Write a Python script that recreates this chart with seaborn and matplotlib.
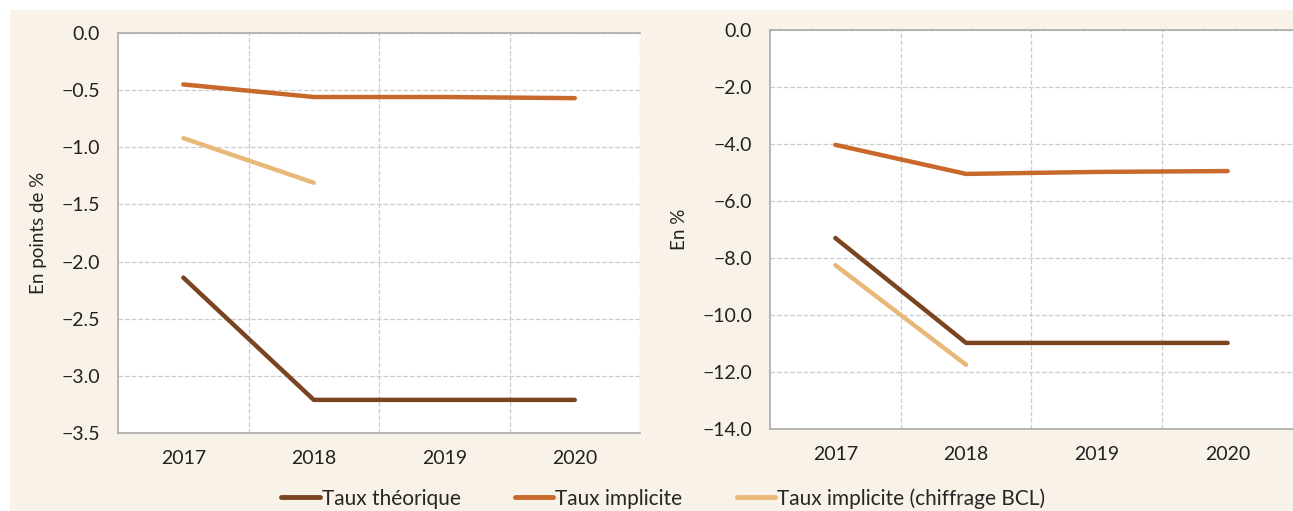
import seaborn as sns
import matplotlib.pyplot as plt
import pandas as pd
from matplotlib.patches import Rectangle
from matplotlib.lines import Line2D

years = ["2017", "2018", "2019", "2020"]
series = ["Taux théorique", "Taux implicite", "Taux implicite (chiffrage BCL)"]
colors = ["#7a4421", "#c8682b", "#e8b878"]

# panneau gauche : en points de %
left_theorique = [-2.14, -3.21, -3.21, -3.21]
left_implicite = [-0.45, -0.56, -0.56, -0.57]
left_bcl = [-0.92, -1.31, None, None]

# panneau droit : en %
right_theorique = [-7.3, -10.98, -10.98, -10.98]
right_implicite = [-4.03, -5.05, -4.98, -4.95]
right_bcl = [-8.25, -11.75, None, None]


def to_long(vals):
    rows = []
    for name, v in zip(series, vals):
        for i, y in enumerate(v):
            if y is not None:
                rows.append({"x": i, "val": y, "serie": name})
    return pd.DataFrame(rows)


left = to_long([left_theorique, left_implicite, left_bcl])
right = to_long([right_theorique, right_implicite, right_bcl])

sns.set_style("white")
plt.rcParams["font.family"] = ["Lato", "DejaVu Sans"]

fig = plt.figure(figsize=(12.93, 5.11), dpi=100, facecolor="white")
fig.patches.append(Rectangle((10 / 1293, 0), 1, 1 - 10 / 511, transform=fig.transFigure,
                             facecolor="#f9f2e8", edgecolor="none", zorder=-1))

ax1 = fig.add_axes([0.0913, 0.1526, 0.4037, 0.7828])
ax2 = fig.add_axes([0.5955, 0.1605, 0.4045, 0.7808])

pal = dict(zip(series, colors))
for ax, df, ylim, step, lab in [(ax1, left, (-3.5, 0), 0.5, "En points de %"),
                                (ax2, right, (-14, 0), 2.0, "En %")]:
    sns.lineplot(data=df, x="x", y="val", hue="serie", palette=pal, linewidth=3.2,
                 ax=ax, legend=False)
    ax.set_facecolor("white")
    ax.set_xlim(-0.5, 3.5)
    ax.set_ylim(*ylim)
    n = int(round(-ylim[0] / step))
    ticks = [-step * k for k in range(n + 1)]
    ax.set_yticks(ticks)
    ax.set_yticklabels([f"{abs(t):.1f}" if t == 0 else f"\u2212{abs(t):.1f}" for t in ticks])
    ax.set_xticks(range(4))
    ax.set_xticklabels(years)
    ax.set_xticks([0.5, 1.5, 2.5, 3.5], minor=True)
    ax.tick_params(axis="x", which="major", length=0, pad=12, labelsize=14, colors="#222222")
    ax.tick_params(axis="x", which="minor", length=5, color="#aaaaaa")
    ax.tick_params(axis="y", length=5, pad=8, labelsize=14, colors="#222222")
    ax.tick_params(axis="y", color="#aaaaaa")
    ax.grid(True, axis="y", which="major", linestyle="--", color="#cccccc", linewidth=0.9)
    ax.grid(True, axis="x", which="minor", linestyle="--", color="#cccccc", linewidth=0.9)
    for s in ["left", "bottom", "top"]:
        ax.spines[s].set_color("#aaaaaa")
        ax.spines[s].set_linewidth(1.2)
    ax.spines["right"].set_visible(False)
    ax.set_xlabel("")
    ax.set_ylabel(lab, fontsize=13.5, color="#222222", labelpad=10)

handles = [Line2D([], [], color=c, linewidth=3.5) for c in colors]
fig.legend(handles, series, loc="center", bbox_to_anchor=(0.513, 0.025), ncol=3, frameon=False,
           handlelength=1.85, handletextpad=0.1, columnspacing=2.6,
           prop={"family": ["Lato", "DejaVu Sans"], "size": 15})

fig.savefig("out.png", dpi=100, facecolor=fig.get_facecolor())
